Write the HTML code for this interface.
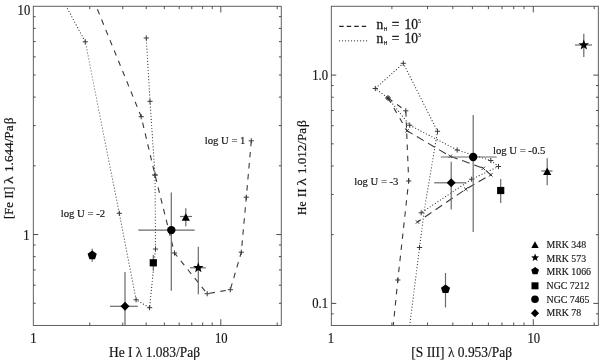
<!DOCTYPE html>
<html><head><meta charset="utf-8"><title>Line ratio diagnostic diagrams</title>
<style>
html,body{margin:0;padding:0;background:#fff;}
body{width:600px;height:360px;overflow:hidden;}
svg{display:block;font-family:"Liberation Serif", serif;}
</style></head><body>
<svg width="600" height="360" viewBox="0 0 600 360">
<rect x="0" y="0" width="600" height="360" fill="#fff"/>
<defs><clipPath id="c1"><rect x="33.3" y="6.25" width="247.95" height="319.15"/></clipPath><clipPath id="c2"><rect x="331.3" y="6.25" width="266.99999999999994" height="319.15"/></clipPath></defs>
<rect x="33.3" y="6.25" width="247.95" height="319.15" fill="none" stroke="#444" stroke-width="0.85"/>
<line x1="220.80" y1="325.40" x2="220.80" y2="319.20" stroke="#4a4a4a" stroke-width="0.95" />
<line x1="220.80" y1="6.25" x2="220.80" y2="12.45" stroke="#4a4a4a" stroke-width="0.95" />
<line x1="89.74" y1="325.40" x2="89.74" y2="322.50" stroke="#4a4a4a" stroke-width="0.95" />
<line x1="89.74" y1="6.25" x2="89.74" y2="9.15" stroke="#4a4a4a" stroke-width="0.95" />
<line x1="122.76" y1="325.40" x2="122.76" y2="322.50" stroke="#4a4a4a" stroke-width="0.95" />
<line x1="122.76" y1="6.25" x2="122.76" y2="9.15" stroke="#4a4a4a" stroke-width="0.95" />
<line x1="146.19" y1="325.40" x2="146.19" y2="322.50" stroke="#4a4a4a" stroke-width="0.95" />
<line x1="146.19" y1="6.25" x2="146.19" y2="9.15" stroke="#4a4a4a" stroke-width="0.95" />
<line x1="164.36" y1="325.40" x2="164.36" y2="322.50" stroke="#4a4a4a" stroke-width="0.95" />
<line x1="164.36" y1="6.25" x2="164.36" y2="9.15" stroke="#4a4a4a" stroke-width="0.95" />
<line x1="179.20" y1="325.40" x2="179.20" y2="322.50" stroke="#4a4a4a" stroke-width="0.95" />
<line x1="179.20" y1="6.25" x2="179.20" y2="9.15" stroke="#4a4a4a" stroke-width="0.95" />
<line x1="191.76" y1="325.40" x2="191.76" y2="322.50" stroke="#4a4a4a" stroke-width="0.95" />
<line x1="191.76" y1="6.25" x2="191.76" y2="9.15" stroke="#4a4a4a" stroke-width="0.95" />
<line x1="202.63" y1="325.40" x2="202.63" y2="322.50" stroke="#4a4a4a" stroke-width="0.95" />
<line x1="202.63" y1="6.25" x2="202.63" y2="9.15" stroke="#4a4a4a" stroke-width="0.95" />
<line x1="212.22" y1="325.40" x2="212.22" y2="322.50" stroke="#4a4a4a" stroke-width="0.95" />
<line x1="212.22" y1="6.25" x2="212.22" y2="9.15" stroke="#4a4a4a" stroke-width="0.95" />
<line x1="277.24" y1="325.40" x2="277.24" y2="322.50" stroke="#4a4a4a" stroke-width="0.95" />
<line x1="277.24" y1="6.25" x2="277.24" y2="9.15" stroke="#4a4a4a" stroke-width="0.95" />
<line x1="33.30" y1="234.55" x2="38.26" y2="234.55" stroke="#4a4a4a" stroke-width="1.0" />
<line x1="281.25" y1="234.55" x2="276.29" y2="234.55" stroke="#4a4a4a" stroke-width="1.0" />
<line x1="33.30" y1="303.28" x2="35.62" y2="303.28" stroke="#4a4a4a" stroke-width="1.0" />
<line x1="281.25" y1="303.28" x2="278.93" y2="303.28" stroke="#4a4a4a" stroke-width="1.0" />
<line x1="33.30" y1="285.20" x2="35.62" y2="285.20" stroke="#4a4a4a" stroke-width="1.0" />
<line x1="281.25" y1="285.20" x2="278.93" y2="285.20" stroke="#4a4a4a" stroke-width="1.0" />
<line x1="33.30" y1="269.91" x2="35.62" y2="269.91" stroke="#4a4a4a" stroke-width="1.0" />
<line x1="281.25" y1="269.91" x2="278.93" y2="269.91" stroke="#4a4a4a" stroke-width="1.0" />
<line x1="33.30" y1="256.67" x2="35.62" y2="256.67" stroke="#4a4a4a" stroke-width="1.0" />
<line x1="281.25" y1="256.67" x2="278.93" y2="256.67" stroke="#4a4a4a" stroke-width="1.0" />
<line x1="33.30" y1="245.00" x2="35.62" y2="245.00" stroke="#4a4a4a" stroke-width="1.0" />
<line x1="281.25" y1="245.00" x2="278.93" y2="245.00" stroke="#4a4a4a" stroke-width="1.0" />
<line x1="33.30" y1="165.82" x2="35.62" y2="165.82" stroke="#4a4a4a" stroke-width="1.0" />
<line x1="281.25" y1="165.82" x2="278.93" y2="165.82" stroke="#4a4a4a" stroke-width="1.0" />
<line x1="33.30" y1="125.62" x2="35.62" y2="125.62" stroke="#4a4a4a" stroke-width="1.0" />
<line x1="281.25" y1="125.62" x2="278.93" y2="125.62" stroke="#4a4a4a" stroke-width="1.0" />
<line x1="33.30" y1="97.10" x2="35.62" y2="97.10" stroke="#4a4a4a" stroke-width="1.0" />
<line x1="281.25" y1="97.10" x2="278.93" y2="97.10" stroke="#4a4a4a" stroke-width="1.0" />
<line x1="33.30" y1="74.98" x2="35.62" y2="74.98" stroke="#4a4a4a" stroke-width="1.0" />
<line x1="281.25" y1="74.98" x2="278.93" y2="74.98" stroke="#4a4a4a" stroke-width="1.0" />
<line x1="33.30" y1="56.90" x2="35.62" y2="56.90" stroke="#4a4a4a" stroke-width="1.0" />
<line x1="281.25" y1="56.90" x2="278.93" y2="56.90" stroke="#4a4a4a" stroke-width="1.0" />
<line x1="33.30" y1="41.61" x2="35.62" y2="41.61" stroke="#4a4a4a" stroke-width="1.0" />
<line x1="281.25" y1="41.61" x2="278.93" y2="41.61" stroke="#4a4a4a" stroke-width="1.0" />
<line x1="33.30" y1="28.37" x2="35.62" y2="28.37" stroke="#4a4a4a" stroke-width="1.0" />
<line x1="281.25" y1="28.37" x2="278.93" y2="28.37" stroke="#4a4a4a" stroke-width="1.0" />
<line x1="33.30" y1="16.70" x2="35.62" y2="16.70" stroke="#4a4a4a" stroke-width="1.0" />
<line x1="281.25" y1="16.70" x2="278.93" y2="16.70" stroke="#4a4a4a" stroke-width="1.0" />
<rect x="331.3" y="6.25" width="267.00" height="319.15" fill="none" stroke="#444" stroke-width="0.85"/>
<line x1="533.30" y1="325.40" x2="533.30" y2="319.20" stroke="#4a4a4a" stroke-width="0.95" />
<line x1="533.30" y1="6.25" x2="533.30" y2="12.45" stroke="#4a4a4a" stroke-width="0.95" />
<line x1="391.90" y1="325.40" x2="391.90" y2="322.50" stroke="#4a4a4a" stroke-width="0.95" />
<line x1="391.90" y1="6.25" x2="391.90" y2="9.15" stroke="#4a4a4a" stroke-width="0.95" />
<line x1="427.52" y1="325.40" x2="427.52" y2="322.50" stroke="#4a4a4a" stroke-width="0.95" />
<line x1="427.52" y1="6.25" x2="427.52" y2="9.15" stroke="#4a4a4a" stroke-width="0.95" />
<line x1="452.80" y1="325.40" x2="452.80" y2="322.50" stroke="#4a4a4a" stroke-width="0.95" />
<line x1="452.80" y1="6.25" x2="452.80" y2="9.15" stroke="#4a4a4a" stroke-width="0.95" />
<line x1="472.40" y1="325.40" x2="472.40" y2="322.50" stroke="#4a4a4a" stroke-width="0.95" />
<line x1="472.40" y1="6.25" x2="472.40" y2="9.15" stroke="#4a4a4a" stroke-width="0.95" />
<line x1="488.42" y1="325.40" x2="488.42" y2="322.50" stroke="#4a4a4a" stroke-width="0.95" />
<line x1="488.42" y1="6.25" x2="488.42" y2="9.15" stroke="#4a4a4a" stroke-width="0.95" />
<line x1="501.96" y1="325.40" x2="501.96" y2="322.50" stroke="#4a4a4a" stroke-width="0.95" />
<line x1="501.96" y1="6.25" x2="501.96" y2="9.15" stroke="#4a4a4a" stroke-width="0.95" />
<line x1="513.70" y1="325.40" x2="513.70" y2="322.50" stroke="#4a4a4a" stroke-width="0.95" />
<line x1="513.70" y1="6.25" x2="513.70" y2="9.15" stroke="#4a4a4a" stroke-width="0.95" />
<line x1="524.04" y1="325.40" x2="524.04" y2="322.50" stroke="#4a4a4a" stroke-width="0.95" />
<line x1="524.04" y1="6.25" x2="524.04" y2="9.15" stroke="#4a4a4a" stroke-width="0.95" />
<line x1="594.20" y1="325.40" x2="594.20" y2="322.50" stroke="#4a4a4a" stroke-width="0.95" />
<line x1="594.20" y1="6.25" x2="594.20" y2="9.15" stroke="#4a4a4a" stroke-width="0.95" />
<line x1="331.30" y1="303.40" x2="336.26" y2="303.40" stroke="#4a4a4a" stroke-width="1.0" />
<line x1="598.30" y1="303.40" x2="593.34" y2="303.40" stroke="#4a4a4a" stroke-width="1.0" />
<line x1="331.30" y1="75.10" x2="336.26" y2="75.10" stroke="#4a4a4a" stroke-width="1.0" />
<line x1="598.30" y1="75.10" x2="593.34" y2="75.10" stroke="#4a4a4a" stroke-width="1.0" />
<line x1="331.30" y1="313.85" x2="333.62" y2="313.85" stroke="#4a4a4a" stroke-width="1.0" />
<line x1="598.30" y1="313.85" x2="595.98" y2="313.85" stroke="#4a4a4a" stroke-width="1.0" />
<line x1="331.30" y1="234.67" x2="333.62" y2="234.67" stroke="#4a4a4a" stroke-width="1.0" />
<line x1="598.30" y1="234.67" x2="595.98" y2="234.67" stroke="#4a4a4a" stroke-width="1.0" />
<line x1="331.30" y1="194.47" x2="333.62" y2="194.47" stroke="#4a4a4a" stroke-width="1.0" />
<line x1="598.30" y1="194.47" x2="595.98" y2="194.47" stroke="#4a4a4a" stroke-width="1.0" />
<line x1="331.30" y1="165.95" x2="333.62" y2="165.95" stroke="#4a4a4a" stroke-width="1.0" />
<line x1="598.30" y1="165.95" x2="595.98" y2="165.95" stroke="#4a4a4a" stroke-width="1.0" />
<line x1="331.30" y1="143.83" x2="333.62" y2="143.83" stroke="#4a4a4a" stroke-width="1.0" />
<line x1="598.30" y1="143.83" x2="595.98" y2="143.83" stroke="#4a4a4a" stroke-width="1.0" />
<line x1="331.30" y1="125.75" x2="333.62" y2="125.75" stroke="#4a4a4a" stroke-width="1.0" />
<line x1="598.30" y1="125.75" x2="595.98" y2="125.75" stroke="#4a4a4a" stroke-width="1.0" />
<line x1="331.30" y1="110.46" x2="333.62" y2="110.46" stroke="#4a4a4a" stroke-width="1.0" />
<line x1="598.30" y1="110.46" x2="595.98" y2="110.46" stroke="#4a4a4a" stroke-width="1.0" />
<line x1="331.30" y1="97.22" x2="333.62" y2="97.22" stroke="#4a4a4a" stroke-width="1.0" />
<line x1="598.30" y1="97.22" x2="595.98" y2="97.22" stroke="#4a4a4a" stroke-width="1.0" />
<line x1="331.30" y1="85.55" x2="333.62" y2="85.55" stroke="#4a4a4a" stroke-width="1.0" />
<line x1="598.30" y1="85.55" x2="595.98" y2="85.55" stroke="#4a4a4a" stroke-width="1.0" />
<polyline points="61.60,-2.00 66.30,6.50 85.30,41.80 119.30,213.30 136.10,299.80 149.60,307.70 155.50,249.00 155.00,175.00 150.00,101.30 146.30,38.00" fill="none" stroke="#3c3c3c" stroke-width="1.2" stroke-linecap="round" stroke-dasharray="0.01 3.05" clip-path="url(#c1)"/>
<line x1="82.70" y1="41.80" x2="87.90" y2="41.80" stroke="#3a3a3a" stroke-width="1.0" />
<line x1="85.30" y1="39.20" x2="85.30" y2="44.40" stroke="#3a3a3a" stroke-width="1.0" />
<line x1="116.70" y1="213.30" x2="121.90" y2="213.30" stroke="#3a3a3a" stroke-width="1.0" />
<line x1="119.30" y1="210.70" x2="119.30" y2="215.90" stroke="#3a3a3a" stroke-width="1.0" />
<line x1="133.50" y1="299.80" x2="138.70" y2="299.80" stroke="#3a3a3a" stroke-width="1.0" />
<line x1="136.10" y1="297.20" x2="136.10" y2="302.40" stroke="#3a3a3a" stroke-width="1.0" />
<line x1="147.00" y1="307.70" x2="152.20" y2="307.70" stroke="#3a3a3a" stroke-width="1.0" />
<line x1="149.60" y1="305.10" x2="149.60" y2="310.30" stroke="#3a3a3a" stroke-width="1.0" />
<line x1="152.90" y1="249.00" x2="158.10" y2="249.00" stroke="#3a3a3a" stroke-width="1.0" />
<line x1="155.50" y1="246.40" x2="155.50" y2="251.60" stroke="#3a3a3a" stroke-width="1.0" />
<line x1="152.40" y1="175.00" x2="157.60" y2="175.00" stroke="#3a3a3a" stroke-width="1.0" />
<line x1="155.00" y1="172.40" x2="155.00" y2="177.60" stroke="#3a3a3a" stroke-width="1.0" />
<line x1="147.40" y1="101.30" x2="152.60" y2="101.30" stroke="#3a3a3a" stroke-width="1.0" />
<line x1="150.00" y1="98.70" x2="150.00" y2="103.90" stroke="#3a3a3a" stroke-width="1.0" />
<line x1="143.70" y1="38.00" x2="148.90" y2="38.00" stroke="#3a3a3a" stroke-width="1.0" />
<line x1="146.30" y1="35.40" x2="146.30" y2="40.60" stroke="#3a3a3a" stroke-width="1.0" />
<polyline points="97.40,9.30 141.20,116.70 155.00,175.00 174.50,253.00 207.20,293.70 230.30,289.70 241.30,252.20 246.30,197.20 251.30,140.80" fill="none" stroke="#383838" stroke-width="1.1" stroke-dasharray="5.5 5.6" clip-path="url(#c1)"/>
<line x1="138.60" y1="116.70" x2="143.80" y2="116.70" stroke="#3a3a3a" stroke-width="1.0" />
<line x1="141.20" y1="114.10" x2="141.20" y2="119.30" stroke="#3a3a3a" stroke-width="1.0" />
<line x1="152.40" y1="175.00" x2="157.60" y2="175.00" stroke="#3a3a3a" stroke-width="1.0" />
<line x1="155.00" y1="172.40" x2="155.00" y2="177.60" stroke="#3a3a3a" stroke-width="1.0" />
<line x1="171.90" y1="253.00" x2="177.10" y2="253.00" stroke="#3a3a3a" stroke-width="1.0" />
<line x1="174.50" y1="250.40" x2="174.50" y2="255.60" stroke="#3a3a3a" stroke-width="1.0" />
<line x1="204.60" y1="293.70" x2="209.80" y2="293.70" stroke="#3a3a3a" stroke-width="1.0" />
<line x1="207.20" y1="291.10" x2="207.20" y2="296.30" stroke="#3a3a3a" stroke-width="1.0" />
<line x1="227.70" y1="289.70" x2="232.90" y2="289.70" stroke="#3a3a3a" stroke-width="1.0" />
<line x1="230.30" y1="287.10" x2="230.30" y2="292.30" stroke="#3a3a3a" stroke-width="1.0" />
<line x1="238.70" y1="252.20" x2="243.90" y2="252.20" stroke="#3a3a3a" stroke-width="1.0" />
<line x1="241.30" y1="249.60" x2="241.30" y2="254.80" stroke="#3a3a3a" stroke-width="1.0" />
<line x1="243.70" y1="197.20" x2="248.90" y2="197.20" stroke="#3a3a3a" stroke-width="1.0" />
<line x1="246.30" y1="194.60" x2="246.30" y2="199.80" stroke="#3a3a3a" stroke-width="1.0" />
<line x1="248.70" y1="140.80" x2="253.90" y2="140.80" stroke="#3a3a3a" stroke-width="1.0" />
<line x1="251.30" y1="138.20" x2="251.30" y2="143.40" stroke="#3a3a3a" stroke-width="1.0" />
<line x1="92.20" y1="248.70" x2="92.20" y2="261.70" stroke="#6a6a6a" stroke-width="1.2" />
<polygon points="92.20,250.50 96.77,253.82 95.02,259.18 89.38,259.18 87.63,253.82" fill="#000"/>
<line x1="110.00" y1="306.30" x2="137.80" y2="306.30" stroke="#6a6a6a" stroke-width="1.2" />
<line x1="125.00" y1="272.00" x2="125.00" y2="325.40" stroke="#6a6a6a" stroke-width="1.2" />
<polygon points="125,301.8 129.5,306.3 125,310.8 120.5,306.3" fill="#000"/>
<line x1="153.30" y1="255.00" x2="153.30" y2="270.80" stroke="#6a6a6a" stroke-width="1.2" />
<rect x="149.70000000000002" y="259.2" width="7.2" height="7.2" fill="#000"/>
<line x1="138.30" y1="230.10" x2="194.70" y2="230.10" stroke="#6a6a6a" stroke-width="1.2" />
<line x1="171.30" y1="192.50" x2="171.30" y2="290.80" stroke="#6a6a6a" stroke-width="1.2" />
<circle cx="171.3" cy="230.1" r="4.2" fill="#000"/>
<line x1="180.00" y1="216.50" x2="192.00" y2="216.50" stroke="#6a6a6a" stroke-width="1.2" />
<line x1="185.80" y1="208.30" x2="185.80" y2="226.30" stroke="#6a6a6a" stroke-width="1.2" />
<polygon points="185.8,213.2 189.9,220.8 181.70000000000002,220.8" fill="#000"/>
<line x1="190.00" y1="267.80" x2="205.80" y2="267.80" stroke="#6a6a6a" stroke-width="1.2" />
<line x1="198.30" y1="246.70" x2="198.30" y2="294.20" stroke="#6a6a6a" stroke-width="1.2" />
<polygon points="198.30,262.30 199.65,265.94 203.53,266.10 200.49,268.51 201.53,272.25 198.30,270.10 195.07,272.25 196.11,268.51 193.07,266.10 196.95,265.94" fill="#000"/>
<text transform="translate(30.2,14.6) scale(0.93,1)" font-size="13.6" text-anchor="end" fill="#151515" stroke="#151515" stroke-width="0.18">10</text>
<text transform="translate(29.6,239.6) scale(0.91,1)" font-size="13.9" text-anchor="end" fill="#151515" stroke="#151515" stroke-width="0.18">1</text>
<text transform="translate(33.3,342.6) scale(0.91,1)" font-size="13.9" text-anchor="middle" fill="#151515" stroke="#151515" stroke-width="0.18">1</text>
<text transform="translate(221.2,342.6) scale(0.91,1)" font-size="13.9" text-anchor="middle" fill="#151515" stroke="#151515" stroke-width="0.18">10</text>
<text transform="translate(154.5,356.7) scale(0.91,1)" font-size="14.8" text-anchor="middle" fill="#151515" stroke="#151515" stroke-width="0.18">He I λ 1.083/Paβ</text>
<text transform="translate(13.2,0) rotate(-90)" font-size="13.0" fill="#151515" stroke="#151515" stroke-width="0.2"><tspan x="-219.05" textLength="16.85" lengthAdjust="spacingAndGlyphs">[Fe</tspan> <tspan x="-198.60" textLength="11.90" lengthAdjust="spacingAndGlyphs">II]</tspan> <tspan x="-184.05" textLength="7.65" lengthAdjust="spacingAndGlyphs">λ</tspan> <tspan x="-172.00" textLength="46.50" lengthAdjust="spacingAndGlyphs">1.644/Pa</tspan><tspan x="-124.05" textLength="6.45" lengthAdjust="spacingAndGlyphs">β</tspan></text>
<text transform="translate(204.7,143.6) scale(0.98,1)" font-size="10.9" fill="#151515" stroke="#151515" stroke-width="0.18">log U = 1</text>
<text transform="translate(60.8,216.5) scale(0.98,1)" font-size="10.9" fill="#151515" stroke="#151515" stroke-width="0.18">log U = -2</text>
<polyline points="409.70,325.40 419.50,247.50 424.60,208.00 437.50,131.30 403.30,63.30 375.30,88.50 388.00,98.00 409.70,125.20 457.20,150.00 490.80,160.50 498.50,166.50 471.70,179.20 421.20,212.80" fill="none" stroke="#3c3c3c" stroke-width="1.2" stroke-linecap="round" stroke-dasharray="0.01 3.05" clip-path="url(#c2)"/>
<line x1="416.90" y1="247.50" x2="422.10" y2="247.50" stroke="#3a3a3a" stroke-width="1.0" />
<line x1="419.50" y1="244.90" x2="419.50" y2="250.10" stroke="#3a3a3a" stroke-width="1.0" />
<line x1="434.90" y1="131.30" x2="440.10" y2="131.30" stroke="#3a3a3a" stroke-width="1.0" />
<line x1="437.50" y1="128.70" x2="437.50" y2="133.90" stroke="#3a3a3a" stroke-width="1.0" />
<line x1="400.70" y1="63.30" x2="405.90" y2="63.30" stroke="#3a3a3a" stroke-width="1.0" />
<line x1="403.30" y1="60.70" x2="403.30" y2="65.90" stroke="#3a3a3a" stroke-width="1.0" />
<line x1="372.70" y1="88.50" x2="377.90" y2="88.50" stroke="#3a3a3a" stroke-width="1.0" />
<line x1="375.30" y1="85.90" x2="375.30" y2="91.10" stroke="#3a3a3a" stroke-width="1.0" />
<line x1="385.40" y1="98.00" x2="390.60" y2="98.00" stroke="#3a3a3a" stroke-width="1.0" />
<line x1="388.00" y1="95.40" x2="388.00" y2="100.60" stroke="#3a3a3a" stroke-width="1.0" />
<line x1="407.10" y1="125.20" x2="412.30" y2="125.20" stroke="#3a3a3a" stroke-width="1.0" />
<line x1="409.70" y1="122.60" x2="409.70" y2="127.80" stroke="#3a3a3a" stroke-width="1.0" />
<line x1="454.60" y1="150.00" x2="459.80" y2="150.00" stroke="#3a3a3a" stroke-width="1.0" />
<line x1="457.20" y1="147.40" x2="457.20" y2="152.60" stroke="#3a3a3a" stroke-width="1.0" />
<line x1="488.20" y1="160.50" x2="493.40" y2="160.50" stroke="#3a3a3a" stroke-width="1.0" />
<line x1="490.80" y1="157.90" x2="490.80" y2="163.10" stroke="#3a3a3a" stroke-width="1.0" />
<line x1="495.90" y1="166.50" x2="501.10" y2="166.50" stroke="#3a3a3a" stroke-width="1.0" />
<line x1="498.50" y1="163.90" x2="498.50" y2="169.10" stroke="#3a3a3a" stroke-width="1.0" />
<line x1="469.10" y1="179.20" x2="474.30" y2="179.20" stroke="#3a3a3a" stroke-width="1.0" />
<line x1="471.70" y1="176.60" x2="471.70" y2="181.80" stroke="#3a3a3a" stroke-width="1.0" />
<line x1="418.60" y1="212.80" x2="423.80" y2="212.80" stroke="#3a3a3a" stroke-width="1.0" />
<line x1="421.20" y1="210.20" x2="421.20" y2="215.40" stroke="#3a3a3a" stroke-width="1.0" />
<polyline points="388.00,98.00 405.80,110.80 408.70,181.00 397.80,280.00 393.30,325.40" fill="none" stroke="#383838" stroke-width="1.1" stroke-dasharray="5.5 5.65" clip-path="url(#c2)"/>
<line x1="385.40" y1="98.00" x2="390.60" y2="98.00" stroke="#3a3a3a" stroke-width="1.0" />
<line x1="388.00" y1="95.40" x2="388.00" y2="100.60" stroke="#3a3a3a" stroke-width="1.0" />
<line x1="403.20" y1="110.80" x2="408.40" y2="110.80" stroke="#3a3a3a" stroke-width="1.0" />
<line x1="405.80" y1="108.20" x2="405.80" y2="113.40" stroke="#3a3a3a" stroke-width="1.0" />
<line x1="406.10" y1="181.00" x2="411.30" y2="181.00" stroke="#3a3a3a" stroke-width="1.0" />
<line x1="408.70" y1="178.40" x2="408.70" y2="183.60" stroke="#3a3a3a" stroke-width="1.0" />
<line x1="395.20" y1="280.00" x2="400.40" y2="280.00" stroke="#3a3a3a" stroke-width="1.0" />
<line x1="397.80" y1="277.40" x2="397.80" y2="282.60" stroke="#3a3a3a" stroke-width="1.0" />
<polyline points="388.00,98.00 407.10,130.80" fill="none" stroke="#383838" stroke-width="1.1" stroke-dasharray="5.5 6.2" clip-path="url(#c2)"/>
<polyline points="407.10,130.80 450.30,156.30 483.30,168.30 490.80,174.80 465.80,189.20 417.50,222.00" fill="none" stroke="#383838" stroke-width="1.1" stroke-dasharray="8.0 4.85" stroke-dashoffset="1.5" clip-path="url(#c2)"/>
<line x1="386.30" y1="96.30" x2="389.70" y2="99.70" stroke="#333" stroke-width="1.0" />
<line x1="386.30" y1="99.70" x2="389.70" y2="96.30" stroke="#333" stroke-width="1.0" />
<line x1="405.40" y1="129.10" x2="408.80" y2="132.50" stroke="#333" stroke-width="1.0" />
<line x1="405.40" y1="132.50" x2="408.80" y2="129.10" stroke="#333" stroke-width="1.0" />
<line x1="448.60" y1="154.60" x2="452.00" y2="158.00" stroke="#333" stroke-width="1.0" />
<line x1="448.60" y1="158.00" x2="452.00" y2="154.60" stroke="#333" stroke-width="1.0" />
<line x1="481.60" y1="166.60" x2="485.00" y2="170.00" stroke="#333" stroke-width="1.0" />
<line x1="481.60" y1="170.00" x2="485.00" y2="166.60" stroke="#333" stroke-width="1.0" />
<line x1="489.10" y1="173.10" x2="492.50" y2="176.50" stroke="#333" stroke-width="1.0" />
<line x1="489.10" y1="176.50" x2="492.50" y2="173.10" stroke="#333" stroke-width="1.0" />
<line x1="464.10" y1="187.50" x2="467.50" y2="190.90" stroke="#333" stroke-width="1.0" />
<line x1="464.10" y1="190.90" x2="467.50" y2="187.50" stroke="#333" stroke-width="1.0" />
<line x1="415.80" y1="220.30" x2="419.20" y2="223.70" stroke="#333" stroke-width="1.0" />
<line x1="415.80" y1="223.70" x2="419.20" y2="220.30" stroke="#333" stroke-width="1.0" />
<line x1="575.00" y1="45.00" x2="592.00" y2="45.00" stroke="#6a6a6a" stroke-width="1.2" />
<line x1="583.80" y1="33.80" x2="583.80" y2="57.00" stroke="#6a6a6a" stroke-width="1.2" />
<polygon points="583.80,39.50 585.15,43.14 589.03,43.30 585.99,45.71 587.03,49.45 583.80,47.30 580.57,49.45 581.61,45.71 578.57,43.30 582.45,43.14" fill="#000"/>
<line x1="541.30" y1="171.00" x2="552.50" y2="171.00" stroke="#6a6a6a" stroke-width="1.2" />
<line x1="547.20" y1="158.30" x2="547.20" y2="185.30" stroke="#6a6a6a" stroke-width="1.2" />
<polygon points="547.2,167.39999999999998 551.3000000000001,175.0 543.1,175.0" fill="#000"/>
<line x1="500.70" y1="179.00" x2="500.70" y2="203.00" stroke="#6a6a6a" stroke-width="1.2" />
<rect x="497.09999999999997" y="186.9" width="7.2" height="7.2" fill="#000"/>
<line x1="440.80" y1="157.00" x2="496.70" y2="157.00" stroke="#6a6a6a" stroke-width="1.2" />
<line x1="473.20" y1="115.00" x2="473.20" y2="232.00" stroke="#6a6a6a" stroke-width="1.2" />
<circle cx="473.2" cy="157" r="4.2" fill="#000"/>
<line x1="434.20" y1="182.80" x2="465.80" y2="182.80" stroke="#6a6a6a" stroke-width="1.2" />
<line x1="451.20" y1="161.70" x2="451.20" y2="209.50" stroke="#6a6a6a" stroke-width="1.2" />
<polygon points="451.2,178.3 455.7,182.8 451.2,187.3 446.7,182.8" fill="#000"/>
<line x1="445.50" y1="273.00" x2="445.50" y2="307.50" stroke="#6a6a6a" stroke-width="1.2" />
<polygon points="445.50,284.40 450.07,287.72 448.32,293.08 442.68,293.08 440.93,287.72" fill="#000"/>
<text transform="translate(328,79.8) scale(0.91,1)" font-size="13.9" text-anchor="end" fill="#151515" stroke="#151515" stroke-width="0.18">1.0</text>
<text transform="translate(328,308.1) scale(0.91,1)" font-size="13.9" text-anchor="end" fill="#151515" stroke="#151515" stroke-width="0.18">0.1</text>
<text transform="translate(331,342.6) scale(0.91,1)" font-size="13.9" text-anchor="middle" fill="#151515" stroke="#151515" stroke-width="0.18">1</text>
<text transform="translate(533.8,342.6) scale(0.91,1)" font-size="13.9" text-anchor="middle" fill="#151515" stroke="#151515" stroke-width="0.18">10</text>
<text transform="translate(461.7,357) scale(0.91,1)" font-size="14.8" text-anchor="middle" fill="#151515" stroke="#151515" stroke-width="0.18">[S III] λ 0.953/Paβ</text>
<text transform="translate(305.7,0) rotate(-90)" font-size="13.4" fill="#151515" stroke="#151515" stroke-width="0.2"><tspan x="-214.90" textLength="13.50" lengthAdjust="spacingAndGlyphs">He</tspan> <tspan x="-197.30" textLength="8.85" lengthAdjust="spacingAndGlyphs">II</tspan> <tspan x="-185.70" textLength="7.70" lengthAdjust="spacingAndGlyphs">λ</tspan> <tspan x="-174.05" textLength="46.05" lengthAdjust="spacingAndGlyphs">1.012/Pa</tspan><tspan x="-127.00" textLength="6.90" lengthAdjust="spacingAndGlyphs">β</tspan></text>
<text transform="translate(493.0,154.1) scale(0.98,1)" font-size="10.9" fill="#151515" stroke="#151515" stroke-width="0.18">log U = -0.5</text>
<text transform="translate(354.2,185.1) scale(0.98,1)" font-size="10.9" fill="#151515" stroke="#151515" stroke-width="0.18">log U = -3</text>
<line x1="339.2" y1="26.3" x2="366.6" y2="26.3" stroke="#222" stroke-width="1.2" stroke-dasharray="4.5 3.0"/>
<line x1="339.5" y1="40.8" x2="366.6" y2="40.8" stroke="#333" stroke-width="1.3" stroke-linecap="round" stroke-dasharray="0.01 3.0"/>
<text transform="translate(376.6,29.0) scale(0.95,1)" font-size="14.2" fill="#151515" stroke="#151515" stroke-width="0.3"><tspan x="0" y="0">n</tspan><tspan x="7.79" y="1.8" font-size="4.8" font-family="Liberation Sans, sans-serif" stroke-width="0.2">H</tspan><tspan x="12.49" y="0"> =</tspan><tspan x="25.76" y="0"> 10</tspan><tspan x="43.79" y="-5.6" font-size="5.5" stroke-width="0.15">5</tspan></text>
<text transform="translate(376.6,43.0) scale(0.95,1)" font-size="14.2" fill="#151515" stroke="#151515" stroke-width="0.3"><tspan x="0" y="0">n</tspan><tspan x="7.79" y="1.8" font-size="4.8" font-family="Liberation Sans, sans-serif" stroke-width="0.2">H</tspan><tspan x="12.49" y="0"> =</tspan><tspan x="25.76" y="0"> 10</tspan><tspan x="43.79" y="-5.6" font-size="5.5" stroke-width="0.15">3</tspan></text>
<text x="546.6" y="248" font-size="9.8" text-anchor="start" fill="#151515" stroke="#151515" stroke-width="0.15" >MRK 348</text>
<text x="546.6" y="261.7" font-size="9.8" text-anchor="start" fill="#151515" stroke="#151515" stroke-width="0.15" >MRK 573</text>
<text x="546.6" y="275.4" font-size="9.8" text-anchor="start" fill="#151515" stroke="#151515" stroke-width="0.15" >MRK 1066</text>
<text x="546.6" y="289" font-size="9.8" text-anchor="start" fill="#151515" stroke="#151515" stroke-width="0.15" >NGC 7212</text>
<text x="546.6" y="302.7" font-size="9.8" text-anchor="start" fill="#151515" stroke="#151515" stroke-width="0.15" >NGC 7465</text>
<text x="546.6" y="316.3" font-size="9.8" text-anchor="start" fill="#151515" stroke="#151515" stroke-width="0.15" >MRK 78</text>
<polygon points="535,241.25 538.7,248.05 531.3,248.05" fill="#000"/>
<polygon points="535.10,253.50 536.16,256.24 539.09,256.40 536.81,258.26 537.57,261.10 535.10,259.50 532.63,261.10 533.39,258.26 531.11,256.40 534.04,256.24" fill="#000"/>
<polygon points="535.10,266.90 539.00,269.73 537.51,274.32 532.69,274.32 531.20,269.73" fill="#000"/>
<rect x="531.5" y="282.3" width="7.0" height="7.0" fill="#000"/>
<circle cx="535" cy="299.2" r="3.8" fill="#000"/>
<polygon points="535,309.09999999999997 539.1,313.2 535,317.3 530.9,313.2" fill="#000"/>
</svg>
</body></html>
